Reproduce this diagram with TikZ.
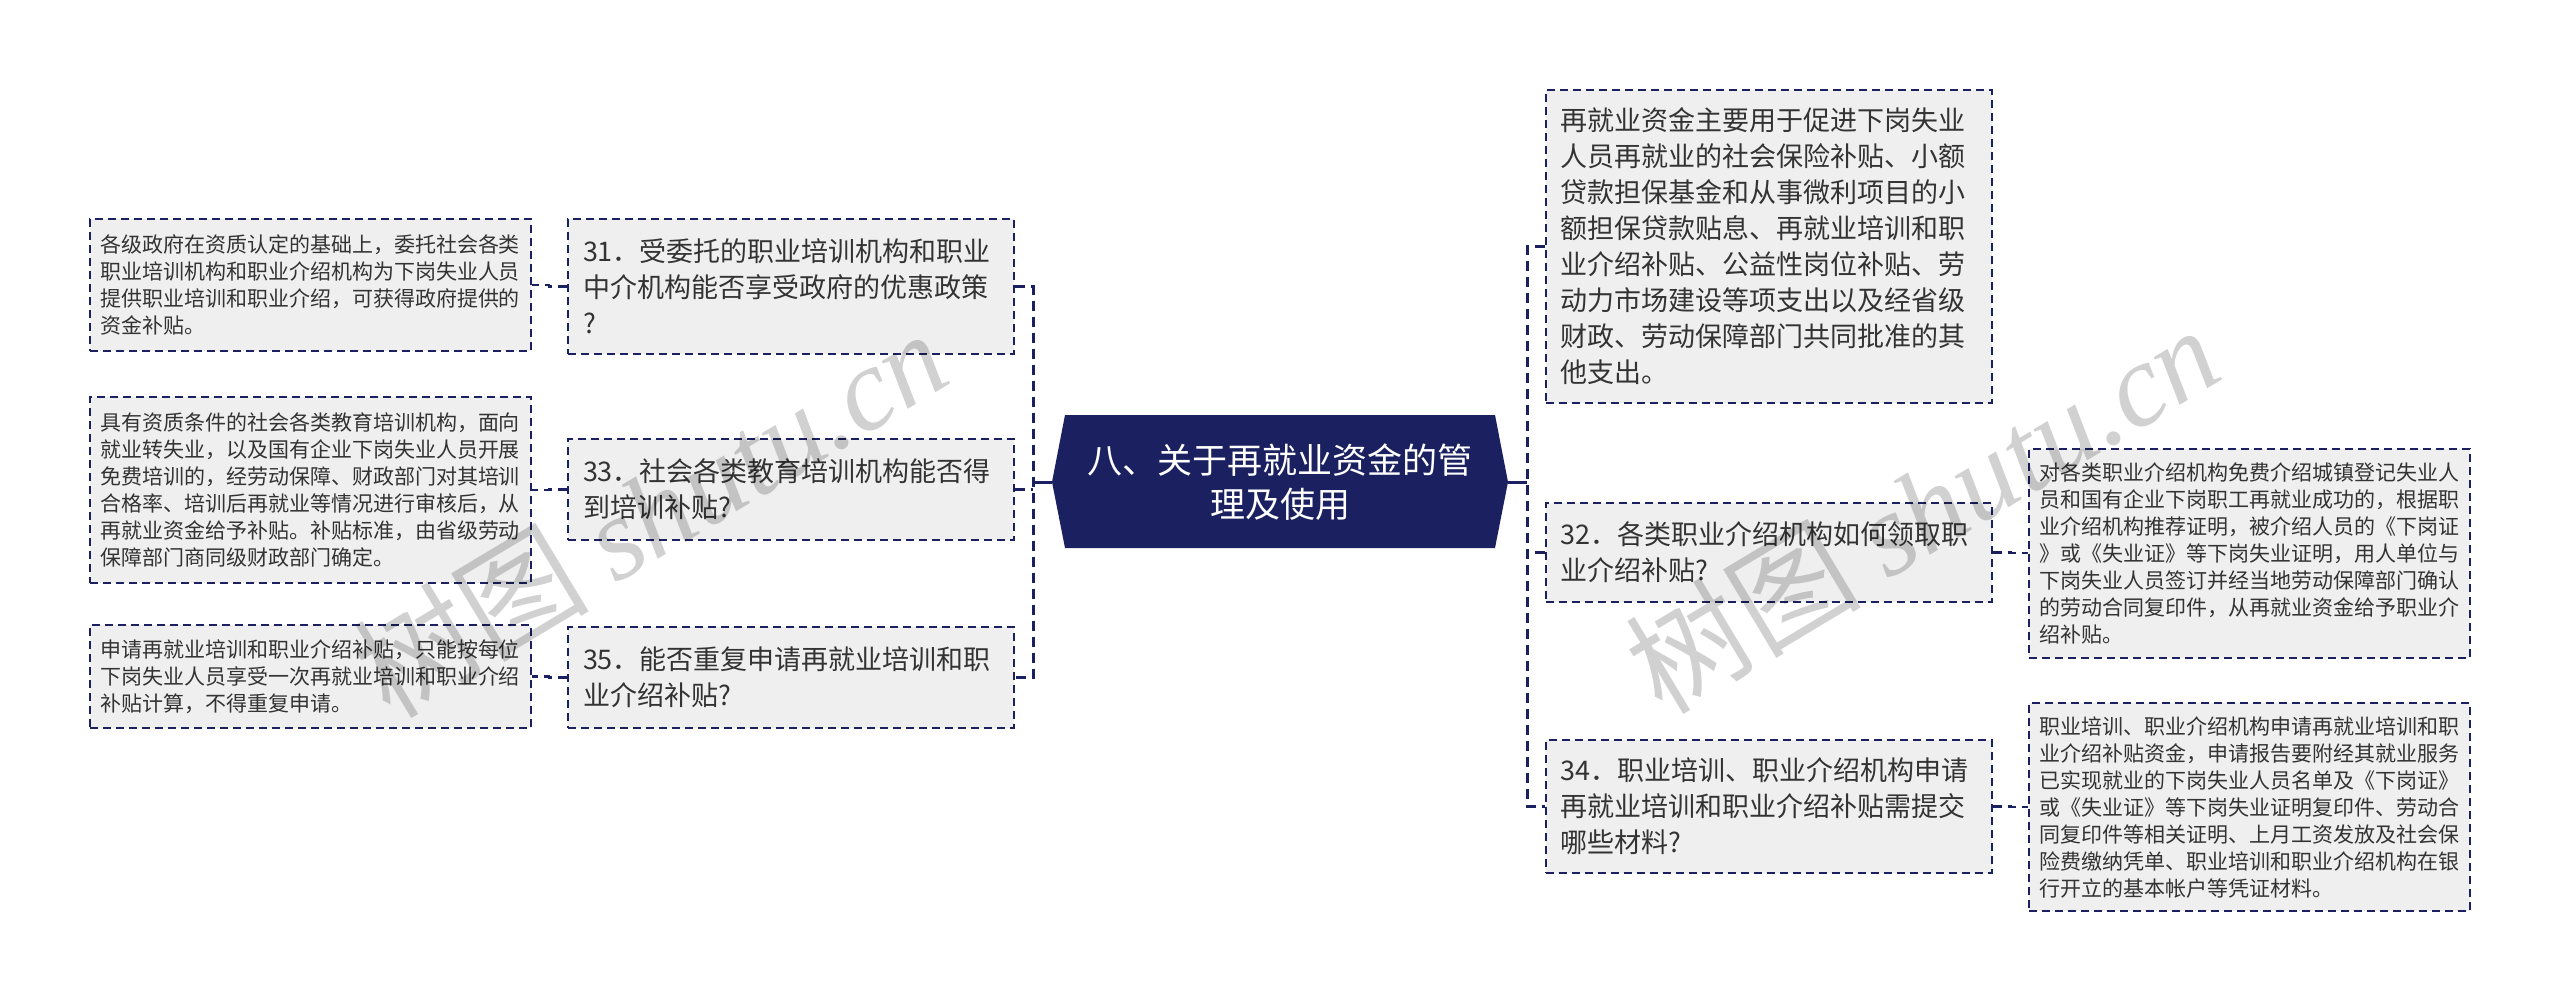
\documentclass[tikz,border=0pt]{standalone}
\usepackage{fontspec}
\setmainfont{Noto Sans CJK SC}
\newfontfamily\wmlatin{Liberation Serif}
\usetikzlibrary{calc}
\definecolor{navy}{HTML}{1B2160}
\definecolor{boxfill}{HTML}{EFEFEF}
\definecolor{txt}{HTML}{333333}
\tikzset{
  box/.style={draw=navy, line width=2pt, dash pattern=on 8pt off 5pt, fill=boxfill, text=txt, align=left, inner ysep=0pt, anchor=center},
  lvl/.style={box, font=\fontsize{27pt}{36pt}\selectfont, inner xsep=15pt, text width=416pt},
  leaf/.style={box, font=\fontsize{21pt}{27pt}\selectfont, inner xsep=10pt, text width=421pt},
  roottext/.style={text=white, align=center, font=\fontsize{35pt}{44pt}\selectfont, inner sep=0pt},
  bus/.style={draw=navy, line width=3pt, dash pattern=on 10pt off 6pt},
  solidconn/.style={draw=navy, line width=3pt},
  leafconn/.style={draw=navy, line width=2.5pt, dash pattern=on 9pt off 6pt},
  wm/.style={text=black, text opacity=0.18, font=\fontsize{118pt}{118pt}\selectfont, inner sep=0pt, rotate=31}
}
\begin{document}
\begin{tikzpicture}[x=1pt,y=-1pt]
\useasboundingbox[fill=white] (0,0) rectangle (2560,1002);

% root hexagon
\coordinate (hexL) at (1052,482);
\coordinate (hexR) at (1508,482);
\fill[navy] (1065,415) -- (1495,415) -- (hexR) -- (1495,548) -- (1065,548) -- (hexL) -- cycle;
\node[roottext] (root) at (1280,482) {八、关于再就业资金的管\\理及使用};

\coordinate (lbus) at (1033,482);
\coordinate (rbus) at (1527,482);

% level-1 boxes (left)
\node[lvl, minimum height=135pt] (c31) at (791,286.5) {31．受委托的职业培训机构和职业\\中介机构能否享受政府的优惠政策\\?};
\node[lvl, minimum height=101pt] (c33) at (791,489.5) {33．社会各类教育培训机构能否得\\到培训补贴?};
\node[lvl, minimum height=101pt] (c35) at (791,677.5) {35．能否重复申请再就业培训和职\\业介绍补贴?};

% level-1 boxes (right)
\node[lvl, minimum height=313pt] (rtop) at (1768.5,246.5) {再就业资金主要用于促进下岗失业\\人员再就业的社会保险补贴、小额\\贷款担保基金和从事微利项目的小\\额担保贷款贴息、再就业培训和职\\业介绍补贴、公益性岗位补贴、劳\\动力市场建设等项支出以及经省级\\财政、劳动保障部门共同批准的其\\他支出。};
\node[lvl, minimum height=99pt] (r32) at (1768.5,552.5) {32．各类职业介绍机构如何领取职\\业介绍补贴?};
\node[lvl, minimum height=133pt] (r34) at (1768.5,806.5) {34．职业培训、职业介绍机构申请\\再就业培训和职业介绍补贴需提交\\哪些材料?};

% leaves (left)
\node[leaf, minimum height=132pt] (l31) at (310.5,285) {各级政府在资质认定的基础上，委托社会各类\\职业培训机构和职业介绍机构为下岗失业人员\\提供职业培训和职业介绍，可获得政府提供的\\资金补贴。};
\node[leaf, minimum height=186pt] (l33) at (310.5,490) {具有资质条件的社会各类教育培训机构，面向\\就业转失业，以及国有企业下岗失业人员开展\\免费培训的，经劳动保障、财政部门对其培训\\合格率、培训后再就业等情况进行审核后，从\\再就业资金给予补贴。补贴标准，由省级劳动\\保障部门商同级财政部门确定。};
\node[leaf, minimum height=103pt] (l35) at (310.5,676.5) {申请再就业培训和职业介绍补贴，只能按每位\\下岗失业人员享受一次再就业培训和职业介绍\\补贴计算，不得重复申请。};

% leaves (right)
\node[leaf, minimum height=209pt] (l32) at (2249.5,553) {对各类职业介绍机构免费介绍城镇登记失业人\\员和国有企业下岗职工再就业成功的，根据职\\业介绍机构推荐证明，被介绍人员的《下岗证\\》或《失业证》等下岗失业证明，用人单位与\\下岗失业人员签订并经当地劳动保障部门确认\\的劳动合同复印件，从再就业资金给予职业介\\绍补贴。};
\node[leaf, minimum height=208pt] (l34) at (2249.5,807) {职业培训、职业介绍机构申请再就业培训和职\\业介绍补贴资金，申请报告要附经其就业服务\\已实现就业的下岗失业人员名单及《下岗证》\\或《失业证》等下岗失业证明复印件、劳动合\\同复印件等相关证明、上月工资发放及社会保\\险费缴纳凭单、职业培训和职业介绍机构在银\\行开立的基本帐户等凭证材料。};

% connectors root -> level 1
\draw[solidconn] (hexL) -- (lbus);
\draw[solidconn] (hexR) -- (rbus);
\draw[bus] (c31.east) -- (c31.east -| lbus) -- (c35.east -| lbus) -- (c35.east);
\draw[bus] (c33.east) -- (c33.east -| lbus);
\draw[bus] (rtop.west) -- (rtop.west -| rbus) -- (r34.west -| rbus) -- (r34.west);
\draw[bus] (r32.west) -- (r32.west -| rbus);

% connectors level 1 -> leaves
\draw[leafconn] (c31.west) -- ++(-18,0) |- (l31.east);
\draw[leafconn] (c33.west) -- ++(-18,0) |- (l33.east);
\draw[leafconn] (c35.west) -- ++(-18,0) |- (l35.east);
\draw[leafconn] (r32.east) -- ++(18,0) |- (l32.west);
\draw[leafconn] (r34.east) -- ++(18,0) |- (l34.west);

% watermarks
\node[wm] (wm1) at (650,512) {树图 {\wmlatin\itshape shutu.cn}};
\node[wm] (wm2) at (1922,508) {树图 {\wmlatin\itshape shutu.cn}};
\end{tikzpicture}
\end{document}
